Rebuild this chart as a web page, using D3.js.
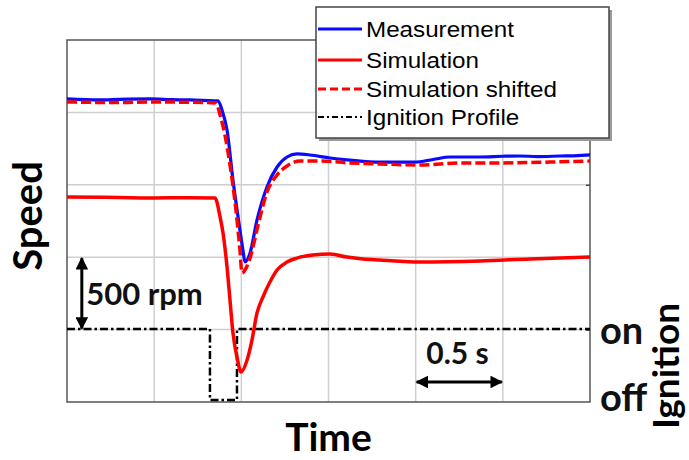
<!DOCTYPE html>
<html><head><meta charset="utf-8">
<script src="https://cdn.jsdelivr.net/npm/d3@7"></script>
<style>body{margin:0;background:#fff;overflow:hidden}</style>
</head><body>
<svg id="chart" width="689" height="460"></svg>
<script>
// ---- data (time in s, speed in rpm above plot floor) ----
const measurementTime = [0, 0.19, 0.3, 0.48, 0.6, 0.71, 0.866, 0.889, 0.918, 0.952, 0.992, 1.009, 1.021, 1.05, 1.09, 1.147, 1.205, 1.262, 1.319, 1.394, 1.509, 1.623, 1.795, 1.996, 2.1, 2.197, 2.369, 2.5, 2.598, 2.7, 2.828, 2.93, 3.0];
const measurementRpm  = [2093, 2086, 2090, 2093, 2088, 2086, 2079, 2017, 1878, 1533, 1188, 1050, 967, 1029, 1257, 1485, 1623, 1692, 1713, 1706, 1685, 1671, 1657, 1657, 1675, 1692, 1692, 1697, 1699, 1695, 1699, 1702, 1706];

const simulationTime = [0, 0.3, 0.476, 0.7, 0.849, 0.878, 0.895, 0.918, 0.935, 0.952, 0.975, 0.998, 1.033, 1.061, 1.09, 1.124, 1.164, 1.205, 1.262, 1.319, 1.411, 1.509, 1.606, 1.698, 1.795, 2.025, 2.369, 2.656, 3.0];
const simulationRpm  = [1416, 1412, 1409, 1411, 1409, 1278, 1167, 932, 704, 477, 311, 207, 290, 428, 615, 725, 829, 912, 967, 994, 1015, 1022, 1001, 988, 981, 967, 974, 988, 1001];

const shiftedTime = [0, 0.3, 0.476, 0.7, 0.855, 0.878, 0.906, 0.935, 0.969, 0.992, 1.004, 1.027, 1.05, 1.096, 1.147, 1.205, 1.262, 1.336, 1.451, 1.623, 1.795, 2.025, 2.254, 2.484, 2.771, 3.0];
const shiftedRpm  = [2072, 2068, 2072, 2070, 2065, 1982, 1844, 1637, 1326, 1050, 891, 925, 994, 1222, 1450, 1568, 1630, 1664, 1664, 1651, 1644, 1637, 1651, 1651, 1657, 1664];

const ignitionTime  = [0, 0.82, 0.82, 0.975, 0.975, 3.0];
const ignitionState = [1, 1, 0, 0, 1, 1];

const timeGridTicks  = [0.5, 1.0, 1.5, 2.0, 2.5];
const speedGridTicks = [500, 1000, 1500, 2000];
const legendLabels = ["Measurement", "Simulation", "Simulation shifted", "Ignition Profile"];
const ignitionLabels = ["on", "off"];

// ---- scales ----
const svg = d3.select("#chart");
const x = d3.scaleLinear().domain([0, 3]).range([67, 590]);
const y = d3.scaleLinear().domain([0, 2500]).range([402, 40]);
const yIgn = d3.scaleLinear().domain([0, 1]).range([400, 329]);

const BIG = "Lato, 'Open Sans', sans-serif";
const SMALL = "'Liberation Sans', Arial, sans-serif";

// grid
svg.append("g").selectAll("line").data(timeGridTicks).join("line")
  .attr("x1", d => x(d)).attr("x2", d => x(d)).attr("y1", y(2500)).attr("y2", y(0))
  .attr("stroke", "#cfcfcf").attr("stroke-width", 1.5);
svg.append("g").selectAll("line").data(speedGridTicks).join("line")
  .attr("x1", x(0)).attr("x2", x(3)).attr("y1", d => y(d)).attr("y2", d => y(d))
  .attr("stroke", "#cfcfcf").attr("stroke-width", 1.5);

// right-side inward ticks
const rightAxis = d3.axisLeft(y).tickValues(speedGridTicks).tickSize(4).tickFormat("");
const ra = svg.append("g").attr("transform", `translate(${x(3)},0)`).call(rightAxis);
ra.select(".domain").remove();
ra.selectAll("line").attr("stroke", "#444").attr("stroke-width", 1.5);

// plot frame
svg.append("rect").attr("x", x(0)).attr("y", y(2500))
  .attr("width", x(3) - x(0)).attr("height", y(0) - y(2500))
  .attr("fill", "none").attr("stroke", "#555").attr("stroke-width", 1.5);

// series
const lineOf = (ts, vs, sy) => d3.line().x(i => x(ts[i])).y(i => sy(vs[i])).curve(d3.curveMonotoneX)(d3.range(ts.length));

svg.append("path").attr("d", d3.line().x(i => x(ignitionTime[i])).y(i => yIgn(ignitionState[i]))(d3.range(ignitionTime.length)))
  .attr("fill", "none").attr("stroke", "#000").attr("stroke-width", 2.5)
  .attr("stroke-dasharray", "8,3,2.5,3");
svg.append("path").attr("d", lineOf(simulationTime, simulationRpm, y))
  .attr("fill", "none").attr("stroke", "#ff0000").attr("stroke-width", 3.5);
svg.append("path").attr("d", lineOf(measurementTime, measurementRpm, y))
  .attr("fill", "none").attr("stroke", "#0a0aff").attr("stroke-width", 3.2);
svg.append("path").attr("d", lineOf(shiftedTime, shiftedRpm, y))
  .attr("fill", "none").attr("stroke", "#ff0000").attr("stroke-width", 3.5)
  .attr("stroke-dasharray", "10,4");

// arrows
const defs = svg.append("defs");
defs.append("marker").attr("id", "ah").attr("viewBox", "0 0 10 10").attr("refX", 9).attr("refY", 5)
  .attr("markerWidth", 4.2).attr("markerHeight", 4.2).attr("orient", "auto-start-reverse")
  .attr("markerUnits", "strokeWidth")
  .append("path").attr("d", "M0,0 L10,5 L0,10 Z").attr("fill", "#000");

svg.append("line").attr("x1", x(0.085)).attr("x2", x(0.085)).attr("y1", y(1000) + 1).attr("y2", y(500) - 1)
  .attr("stroke", "#000").attr("stroke-width", 3)
  .attr("marker-start", "url(#ah)").attr("marker-end", "url(#ah)");
svg.append("text").attr("x", x(0.11)).attr("y", y(750) + 12)
  .attr("font-family", BIG).attr("font-weight", 700).attr("font-size", 31).attr("fill", "#111")
  .text("500 rpm");

svg.append("line").attr("x1", x(2.0) + 1).attr("x2", x(2.5) - 1).attr("y1", 382).attr("y2", 382)
  .attr("stroke", "#000").attr("stroke-width", 3)
  .attr("marker-start", "url(#ah)").attr("marker-end", "url(#ah)");
svg.append("text").attr("x", x(2.24)).attr("y", 364).attr("text-anchor", "middle")
  .attr("font-family", BIG).attr("font-weight", 700).attr("font-size", 30).attr("fill", "#111")
  .text("0.5 s");

// ignition labels
svg.append("text").attr("x", 600).attr("y", yIgn(1) + 15)
  .attr("font-family", BIG).attr("font-weight", 700).attr("font-size", 38).attr("fill", "#111")
  .text(ignitionLabels[0]);
svg.append("text").attr("x", 600).attr("y", 411)
  .attr("font-family", BIG).attr("font-weight", 700).attr("font-size", 38).attr("fill", "#111")
  .text(ignitionLabels[1]);

// axis titles
svg.append("text").attr("x", x(1.5)).attr("y", 451).attr("text-anchor", "middle")
  .attr("font-family", BIG).attr("font-weight", 700).attr("font-size", 39).attr("fill", "#000")
  .text("Time");
svg.append("text").attr("transform", "translate(42,216) rotate(-90)").attr("text-anchor", "middle")
  .attr("font-family", BIG).attr("font-weight", 700).attr("font-size", 40).attr("fill", "#000")
  .text("Speed");
svg.append("text").attr("transform", "translate(679,366) rotate(-90)").attr("text-anchor", "middle")
  .attr("font-family", BIG).attr("font-weight", 700).attr("font-size", 37).attr("fill", "#000")
  .text("Ignition");

// legend
const lg = svg.append("g").attr("transform", "translate(316,7)");
lg.append("rect").attr("x", 3).attr("y", 3).attr("width", 293).attr("height", 131).attr("fill", "#9a9a9a");
lg.append("rect").attr("width", 293).attr("height", 131).attr("fill", "#fff").attr("stroke", "#444").attr("stroke-width", 1.5);
const legendStyles = [
  {c: "#0a0aff", d: null, w: 3},
  {c: "#ff0000", d: null, w: 3},
  {c: "#ff0000", d: "8,4", w: 3},
  {c: "#000", d: "6,3,2,3", w: 2}
];
const rowY = [22, 53, 82, 110];
legendLabels.forEach((lab, i) => {
  lg.append("line").attr("x1", 2).attr("x2", 46).attr("y1", rowY[i]).attr("y2", rowY[i])
    .attr("stroke", legendStyles[i].c).attr("stroke-width", legendStyles[i].w)
    .attr("stroke-dasharray", legendStyles[i].d);
  lg.append("text").attr("transform", `translate(50,${rowY[i] + 8}) scale(1.1,1)`)
    .attr("font-family", SMALL).attr("font-size", 22).attr("fill", "#000").text(lab);
});
</script>
</body></html>
